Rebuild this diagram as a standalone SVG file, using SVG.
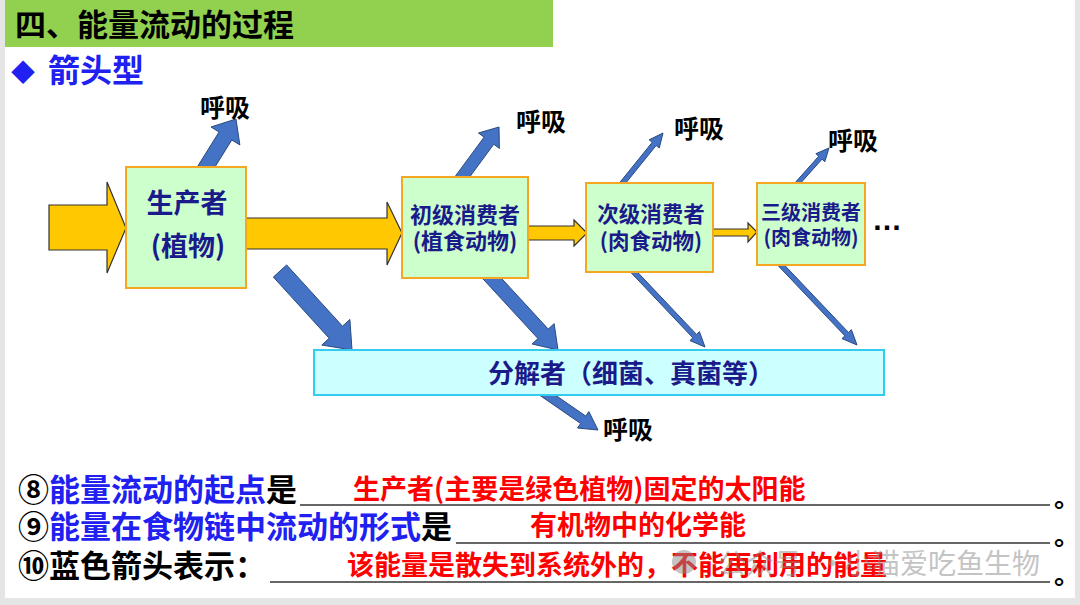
<svg xmlns="http://www.w3.org/2000/svg" width="1080" height="605" viewBox="0 0 1080 605">
<style>
.cjk{font-family:"Noto Sans CJK SC","Noto Sans",sans-serif;font-weight:700}
.node{fill:#CCFFCC;stroke:#F5A623;stroke-width:2}
.nt{fill:#1A1A8A;text-anchor:middle}
.yel{fill:#FFC800;stroke:#333333;stroke-width:1.2;stroke-linejoin:miter}
.blu{fill:#4472C4;stroke:#2B4A80;stroke-width:1;stroke-linejoin:miter}
.resp{fill:#000000;font-size:25px}
.blue{fill:#2020F0}
.blk{fill:#000000}
.red{fill:#FF0000;font-size:27px}
.ul{stroke:#333333;stroke-width:1.6}
</style>
<rect x="0" y="0" width="1080" height="605" fill="#E5E5E5"/>
<rect x="5" y="0" width="1070" height="598" fill="#FFFFFF"/>
<g id="title">
<rect x="5" y="0" width="548" height="47" fill="#92D050"/>
<text class="cjk blk" x="15" y="36" font-size="31">四、能量流动的过程</text>
</g>
<g id="subtitle">
<text class="cjk blue" x="11" y="81" font-size="24">◆</text>
<text class="cjk blue" x="48" y="82" font-size="32">箭头型</text>
</g>
<g id="connectors">
<polygon class="yel" points="49,205 107,205 107,182 126,228 107,273 107,250 49,250"/>
<polygon class="yel" points="246,218 387,218 387,202 402,233 387,265 387,249 246,249"/>
<polygon class="yel" points="528,226 574,226 574,220 587,233 574,246 574,240 528,240"/>
<polygon class="yel" points="713,229 748,229 748,223 757,232 748,242 748,236 713,236"/>
<polygon class="blu" points="209.37,175.97 231.79,139.95 239.85,144.97 236,119 210.99,126.99 219.05,132.01 196.63,168.03"/>
<polygon class="blu" points="273.35,277.06 329.19,338.32 321.8,345.06 352,350 349.88,319.46 342.49,326.2 286.65,264.94"/>
<polygon class="blu" points="464.84,183.56 493.76,144.26 499.4,148.41 499,127 478.44,132.99 484.08,137.14 455.16,176.44"/>
<polygon class="blu" points="482.85,278.74 537.94,338.55 532.05,343.97 558,350 554.13,323.65 548.24,329.07 493.15,269.26"/>
<polygon class="blu" points="622.95,186.57 656.15,145.47 659.26,147.99 663,133 649.14,139.81 652.25,142.33 619.05,183.43"/>
<polygon class="blu" points="630.19,271.72 692.87,337.83 689.96,340.58 705,347 699.4,331.64 696.49,334.39 633.81,268.28"/>
<polygon class="blu" points="797.64,186.46 821.99,159.16 824.83,161.69 829,148 815.87,153.71 818.71,156.24 794.36,183.54"/>
<polygon class="blu" points="778.19,265.72 844.86,335.85 841.96,338.61 857,345 851.38,329.65 848.48,332.41 781.81,262.28"/>
<polygon class="blu" points="537.45,393.7 580.64,423.49 577.52,428.02 598,430 588.86,411.56 585.74,416.09 542.55,386.3"/>
</g>
<g id="producer">
<rect class="node" x="126" y="167" width="120" height="121"/>
<text class="cjk nt" x="187" y="213" font-size="27">生产者</text>
<text class="cjk nt" x="188" y="256" font-size="27">(植物)</text>
</g>
<g id="primary-consumer">
<rect class="node" x="402" y="177" width="126" height="101"/>
<text class="cjk nt" x="465" y="223" font-size="22">初级消费者</text>
<text class="cjk nt" x="465" y="249" font-size="22">(植食动物)</text>
</g>
<g id="secondary-consumer">
<rect class="node" x="586" y="183" width="127" height="89"/>
<text class="cjk nt" x="651" y="222" font-size="21.5">次级消费者</text>
<text class="cjk nt" x="651" y="249" font-size="21.5">(肉食动物)</text>
</g>
<g id="tertiary-consumer">
<rect class="node" x="757" y="183" width="108" height="82"/>
<text class="cjk nt" x="811" y="220" font-size="20">三级消费者</text>
<text class="cjk nt" x="811" y="245" font-size="20">(肉食动物)</text>
</g>
<g id="ellipsis">
<text x="872" y="230" font-family="Liberation Sans, sans-serif" font-weight="700" font-size="30" fill="#000000">…</text>
</g>
<g id="decomposer">
<rect x="314" y="350" width="570" height="45" fill="#CCFFFF" stroke="#33CCEE" stroke-width="2"/>
<text class="cjk nt" x="631" y="383" font-size="26">分解者（细菌、真菌等）</text>
</g>
<g id="respiration-labels">
<text class="cjk resp" x="200" y="117">呼吸</text>
<text class="cjk resp" x="516" y="131">呼吸</text>
<text class="cjk resp" x="674" y="138">呼吸</text>
<text class="cjk resp" x="828" y="150">呼吸</text>
<text class="cjk resp" x="603" y="439">呼吸</text>
</g>
<g id="questions">
<text class="cjk" x="18" y="501" font-size="31"><tspan class="blk">⑧</tspan><tspan class="blue">能量流动的起点</tspan><tspan class="blk">是</tspan></text>
<line class="ul" x1="300" y1="505" x2="1050" y2="505"/>
<text class="cjk blk" x="1054" y="507" font-size="26">。</text>
<text class="cjk red" x="353" y="499">生产者(主要是绿色植物)固定的太阳能</text>
<text class="cjk" x="18" y="538" font-size="31"><tspan class="blk">⑨</tspan><tspan class="blue">能量在食物链中流动的形式</tspan><tspan class="blk">是</tspan></text>
<line class="ul" x1="456" y1="543" x2="1050" y2="543"/>
<text class="cjk blk" x="1054" y="545" font-size="26">。</text>
<text class="cjk red" x="530" y="535" font-size="26.5">有机物中的化学能</text>
<text class="cjk blk" x="18" y="577" font-size="31">⑩蓝色箭头表示：</text>
<line class="ul" x1="270" y1="582" x2="1050" y2="582"/>
<text class="cjk blk" x="1054" y="584" font-size="26">。</text>
<text class="cjk red" x="347" y="575">该能量是散失到系统外的，不能再利用的能量</text>
</g>
<g id="watermark" opacity="0.5">
<circle cx="684" cy="562" r="12" fill="#8A8A8A"/>
<text x="718" y="574" font-family="Noto Sans CJK SC, sans-serif" font-size="28" fill="#8A8A8A">公众号</text>
<text x="818" y="574" font-family="Noto Sans CJK SC, sans-serif" font-size="28" fill="#8A8A8A">·</text>
<text x="844" y="574" font-family="Noto Sans CJK SC, sans-serif" font-size="28" fill="#8A8A8A">小猫爱吃鱼生物</text>
</g>
</svg>
